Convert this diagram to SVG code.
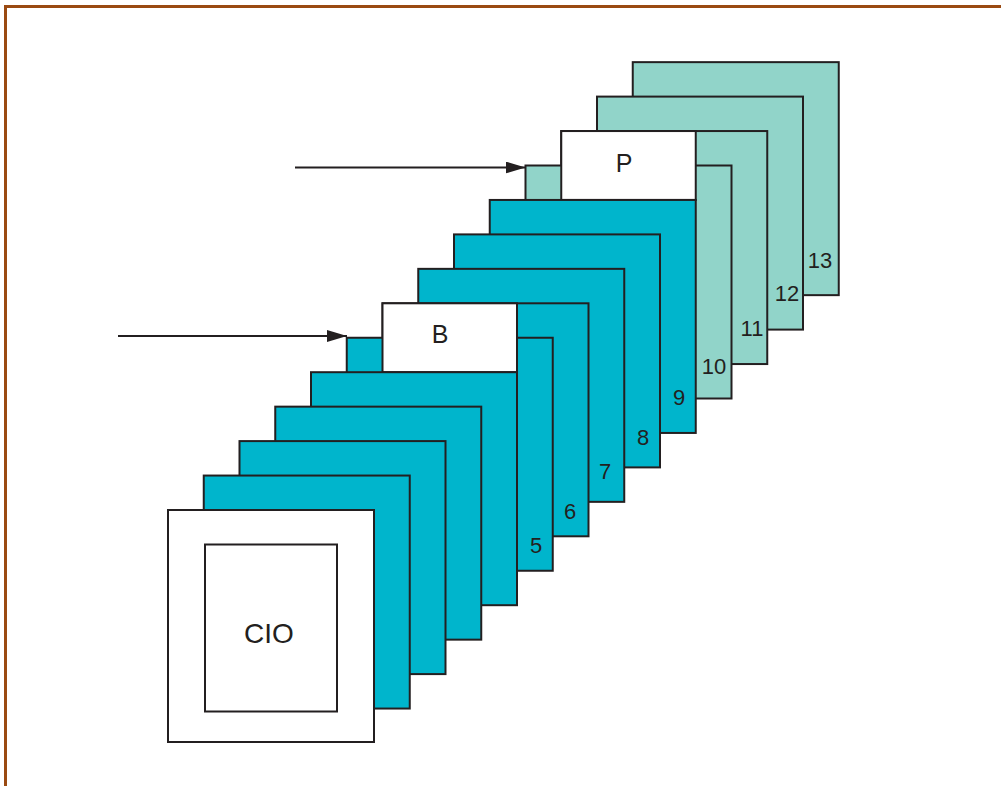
<svg xmlns="http://www.w3.org/2000/svg" width="1001" height="786" viewBox="0 0 1001 786">
  <style>
    .frame { fill: none; stroke: #9a4a12; stroke-width: 3; }
    .sheet { stroke: #231f20; stroke-width: 2; }
    .dark { fill: #00b5cc; }
    .light { fill: #91d4c9; }
    .white { fill: #ffffff; }
    .num { font-family: "Liberation Sans", Arial, sans-serif; font-size: 22px; fill: #231f20; text-anchor: middle; }
    .lbl { font-family: "Liberation Sans", Arial, sans-serif; font-size: 25px; fill: #231f20; text-anchor: middle; }
    .conn { stroke: #231f20; stroke-width: 2; fill: none; }
  </style>
  <defs>
    <marker id="arrow" viewBox="0 0 20 12" refX="20" refY="6" markerWidth="20" markerHeight="12" markerUnits="userSpaceOnUse" orient="auto">
      <path d="M0,0 L20,6 L0,12 Z" fill="#231f20"/>
    </marker>
  </defs>

  <rect width="1001" height="786" fill="#ffffff"/>
  <!-- outer frame: top and left rules -->
  <path class="frame" d="M5.5,786 V6.5 H1001"/>

  <!-- sheets, back to front -->
  <g id="sheet13"><rect class="sheet light" x="632.75" y="62.15" width="206" height="233"/><text class="num" x="820" y="268">13</text></g>
  <g id="sheet12"><rect class="sheet light" x="597" y="96.6" width="206" height="233"/><text class="num" x="787" y="301">12</text></g>
  <g id="sheet11"><rect class="sheet light" x="561.25" y="131.05" width="206" height="233"/><text class="num" x="752" y="336">11</text></g>
  <g id="sheet10"><rect class="sheet light" x="525.5" y="165.5" width="206" height="233"/><text class="num" x="714" y="374">10</text></g>
  <g id="node-P"><rect class="sheet white" x="561.25" y="131.05" width="134.5" height="68.9"/><text class="lbl" x="624" y="172">P</text></g>
  <g id="sheet9"><rect class="sheet dark" x="489.75" y="199.95" width="206" height="233"/><text class="num" x="679" y="405">9</text></g>
  <g id="sheet8"><rect class="sheet dark" x="454" y="234.4" width="206" height="233"/><text class="num" x="643" y="445">8</text></g>
  <g id="sheet7"><rect class="sheet dark" x="418.25" y="268.85" width="206" height="233"/><text class="num" x="605" y="479">7</text></g>
  <g id="sheet6"><rect class="sheet dark" x="382.5" y="303.3" width="206" height="233"/><text class="num" x="570" y="519">6</text></g>
  <g id="sheet5"><rect class="sheet dark" x="346.75" y="337.75" width="206" height="233"/><text class="num" x="536" y="553">5</text></g>
  <g id="node-B"><rect class="sheet white" x="382.5" y="303.3" width="134.5" height="68.9"/><text class="lbl" x="440" y="343">B</text></g>
  <g id="sheet4"><rect class="sheet dark" x="311" y="372.2" width="206" height="233"/></g>
  <g id="sheet3"><rect class="sheet dark" x="275.25" y="406.65" width="206" height="233"/></g>
  <g id="sheet2"><rect class="sheet dark" x="239.5" y="441.1" width="206" height="233"/></g>
  <g id="sheet1"><rect class="sheet dark" x="203.75" y="475.55" width="206" height="233"/></g>
  <g id="node-CIO">
    <rect class="sheet white" x="168" y="510" width="206" height="232"/>
    <rect class="sheet white" x="205" y="544.5" width="132" height="167"/>
    <text class="lbl" x="269" y="643" style="font-size:28px">CIO</text>
  </g>

  <!-- connectors -->
  <g id="connectors">
    <line class="conn" x1="295" y1="167.5" x2="525.5" y2="167.5" marker-end="url(#arrow)"/>
    <line class="conn" x1="118" y1="336" x2="347" y2="336" marker-end="url(#arrow)"/>
  </g>
</svg>
